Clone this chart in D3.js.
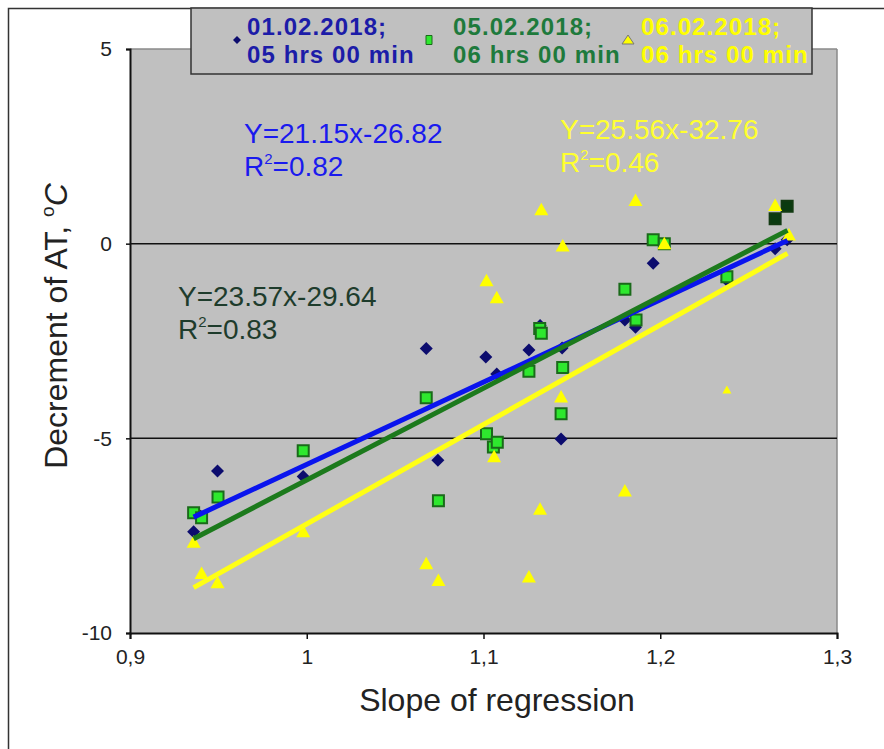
<!DOCTYPE html>
<html>
<head>
<meta charset="utf-8">
<script src="https://cdn.jsdelivr.net/npm/d3@7"></script>
<style>
  body { margin: 0; background: #fff; }
  text { font-family: Arial, "Liberation Sans", sans-serif; }
</style>
</head>
<body>
<div id="chart"></div>
<script>
// ---- data ----
var blueX = [0.936, 0.9495, 0.998, 1.0676, 1.0742, 1.1013, 1.1075, 1.1257, 1.132, 1.1445, 1.1439, 1.180, 1.186, 1.196, 1.2377, 1.265, 1.2718, 0.940]
var blueY = [-7.40, -5.84, -5.98, -2.69, -5.56, -2.91, -3.35, -2.73, -2.10, -2.68, -5.02, -1.96, -2.15, -0.50, -0.94, -0.13, 0.10, -7.0]

var greenX = [0.936, 0.9405, 0.9498, 0.998, 1.0676, 1.0745, 1.1017, 1.1056, 1.1078, 1.1257, 1.1318, 1.1327, 1.1448, 1.1439, 1.180, 1.1863, 1.196, 1.2023, 1.2377]
var greenY = [-6.91, -7.04, -6.51, -5.32, -3.96, -6.60, -4.88, -5.22, -5.10, -3.28, -2.18, -2.30, -3.18, -4.37, -1.17, -1.96, 0.10, 0.0, -0.85]
var greenDarkX = [1.265, 1.2718]
var greenDarkY = [0.64, 0.96]

var yellowX = [0.936, 0.9405, 0.9495, 0.998, 1.0676, 1.0745, 1.1017, 1.1075, 1.106, 1.1257, 1.1327, 1.132, 1.1448, 1.1439, 1.180, 1.186, 1.2023, 1.265, 1.2728]
var yellowY = [-7.67, -8.47, -8.71, -7.40, -8.22, -8.65, -0.95, -1.39, -5.47, -8.56, 0.87, -6.82, -0.06, -3.94, -6.35, 1.11, 0.0, 0.98, 0.22]
var yellowSmallX = [1.2377]
var yellowSmallY = [-3.76]

// trend lines: slope, intercept, x range
var trendNames = ["blue", "green", "yellow"]
var trendSlope = [21.15, 23.57, 25.56]
var trendIntercept = [-26.82, -29.64, -32.76]
var trendFrom = [0.936, 0.936, 0.936]
var trendTo = [1.272, 1.272, 1.272]

var xTicks = [0.9, 1, 1.1, 1.2, 1.3]
var yTicks = [5, 0, -5, -10]
var gridY = [0, -5]

var legendDates = ["01.02.2018;", "05.02.2018;", "06.02.2018;"]
var legendTimes = ["05 hrs 00 min", "06 hrs 00 min", "06 hrs 00 min"]

// ---- layout ----
var W = 884, H = 749
var plotL = 130, plotR = 837, plotT = 49, plotB = 633

var svg = d3.select("#chart").append("svg").attr("width", W).attr("height", H)

// outer frame
svg.append("rect").attr("x", 8.5).attr("y", 8.5).attr("width", 900).attr("height", 900)
  .attr("fill", "none").attr("stroke", "#333").attr("stroke-width", 1.5)

var xs = d3.scaleLinear().domain([0.9, 1.3]).range([plotL, plotR])
var ys = d3.scaleLinear().domain([-10, 5]).range([plotB, plotT])

// plot area
svg.append("rect").attr("x", plotL).attr("y", plotT).attr("width", plotR - plotL).attr("height", plotB - plotT)
  .attr("fill", "#c0c0c0")
svg.append("line").attr("x1", plotL).attr("x2", plotR).attr("y1", plotT).attr("y2", plotT).attr("stroke", "#8a8a8a").attr("stroke-width", 1.5)
svg.append("line").attr("x1", plotR).attr("x2", plotR).attr("y1", plotT).attr("y2", plotB).attr("stroke", "#8a8a8a").attr("stroke-width", 1.5)

// grid lines
svg.append("g").selectAll("line").data(gridY).enter().append("line")
  .attr("x1", plotL).attr("x2", plotR)
  .attr("y1", d => ys(d)).attr("y2", d => ys(d))
  .attr("stroke", "#111").attr("stroke-width", 1.5)

// axes
var yAxis = svg.append("g").attr("transform", "translate(" + plotL + ",0)")
  .call(d3.axisLeft(ys).tickValues(yTicks).tickSize(4).tickPadding(14).tickFormat(d => String(d)))
var xAxis = svg.append("g").attr("transform", "translate(0," + plotB + ")")
  .call(d3.axisBottom(xs).tickValues(xTicks).tickSize(6).tickPadding(10).tickFormat(d => String(d).replace(".", ",")))
;[yAxis, xAxis].forEach(function (a) {
  a.select(".domain").attr("stroke", "#111").attr("stroke-width", 2)
  a.selectAll(".tick line").attr("stroke", "#111").attr("stroke-width", 1.5)
  a.selectAll(".tick text").attr("font-size", 21).attr("fill", "#222").attr("font-family", "Arial, 'Liberation Sans', sans-serif")
})

// axis titles
svg.append("text").attr("x", 497).attr("y", 711).attr("text-anchor", "middle")
  .attr("font-size", 32).attr("fill", "#222").text("Slope of regression")
var yt = svg.append("text").attr("transform", "translate(67,326) rotate(-90)").attr("text-anchor", "middle")
  .attr("font-size", 32).attr("fill", "#222")
yt.append("tspan").text("Decrement of AT, ")
yt.append("tspan").attr("font-size", 19).attr("dy", -13).text("o")
yt.append("tspan").attr("font-style", "italic").attr("dy", 13).text("C")

// markers
var diamond = "M0,-6.5L6.5,0L0,6.5L-6.5,0Z"
var square = "M-5.5,-5.5H5.5V5.5H-5.5Z"
var tri = "M0,-7L7,5.5H-7Z"
var triSmall = "M0,-4.5L4.5,3.5H-4.5Z"

var gPts = svg.append("g")
gPts.selectAll(".blue").data(d3.range(blueX.length)).enter().append("path")
  .attr("d", diamond).attr("fill", "#0c0c6e")
  .attr("transform", i => "translate(" + xs(blueX[i]) + "," + ys(blueY[i]) + ")")
gPts.selectAll(".green").data(d3.range(greenX.length)).enter().append("path")
  .attr("d", square).attr("fill", "#2ee82e").attr("stroke", "#1a6a1a").attr("stroke-width", 2)
  .attr("transform", i => "translate(" + xs(greenX[i]) + "," + ys(greenY[i]) + ")")
gPts.selectAll(".greenDark").data(d3.range(greenDarkX.length)).enter().append("path")
  .attr("d", square).attr("fill", "#0a3a10").attr("stroke", "#123a12").attr("stroke-width", 2)
  .attr("transform", i => "translate(" + xs(greenDarkX[i]) + "," + ys(greenDarkY[i]) + ")")
gPts.selectAll(".yellow").data(d3.range(yellowX.length)).enter().append("path")
  .attr("d", tri).attr("fill", "#ffff00")
  .attr("transform", i => "translate(" + xs(yellowX[i]) + "," + ys(yellowY[i]) + ")")
gPts.selectAll(".yellowSmall").data(d3.range(yellowSmallX.length)).enter().append("path")
  .attr("d", triSmall).attr("fill", "#ffff00")
  .attr("transform", i => "translate(" + xs(yellowSmallX[i]) + "," + ys(yellowSmallY[i]) + ")")

// trend lines
var lineColors = ["#0a14ee", "#1c7a1c", "#ffff14"]
svg.append("g").selectAll("line").data(d3.range(trendNames.length)).enter().append("line")
  .attr("x1", i => xs(trendFrom[i])).attr("x2", i => xs(trendTo[i]))
  .attr("y1", i => ys(trendSlope[i] * trendFrom[i] + trendIntercept[i]))
  .attr("y2", i => ys(trendSlope[i] * trendTo[i] + trendIntercept[i]))
  .attr("stroke", i => lineColors[i]).attr("stroke-width", 5).attr("stroke-linecap", "butt")

// equations
function eq(x, y, color, a, b, r2) {
  var t = svg.append("g").attr("fill", color).attr("font-size", 28)
  t.append("text").attr("x", x).attr("y", y).text("Y=" + a + "x" + b)
  var r = t.append("text").attr("x", x).attr("y", y + 33)
  r.append("tspan").text("R")
  r.append("tspan").attr("font-size", 15).attr("dy", -12).text("2")
  r.append("tspan").attr("dy", 12).text("=" + r2)
}
eq(244, 143, "#1a1aee", trendSlope[0], trendIntercept[0], "0.82")
eq(178, 306, "#1e3c2c", trendSlope[1], trendIntercept[1], "0.83")
eq(560, 139, "#ffff30", trendSlope[2], trendIntercept[2], "0.46")

// legend
var lg = svg.append("g")
lg.append("rect").attr("x", 191).attr("y", 8).attr("width", 621).attr("height", 66)
  .attr("fill", "#c0c0c0").attr("stroke", "#333").attr("stroke-width", 1.5)
var legX = [247, 453, 641]
var legMarkX = [237, 429, 628]
var legColors = ["#1c1ca8", "#1e7a3c", "#ffff00"]
var legShapes = ["M0,-4L4,0L0,4L-4,0Z", "M-3,-4.5H3V4.5H-3Z", "M0,-5L6,4H-6Z"]
var legShapeFill = ["#0c0c6e", "#2ee82e", "#ffff00"]
var legShapeStroke = ["none", "#1a6a1a", "#777"]
legX.forEach(function (x, i) {
  lg.append("path").attr("d", legShapes[i]).attr("fill", legShapeFill[i])
    .attr("stroke", legShapeStroke[i]).attr("stroke-width", 1)
    .attr("transform", "translate(" + legMarkX[i] + ",40)")
  lg.append("text").attr("x", x).attr("y", 35).attr("font-size", 24).attr("font-weight", "bold")
    .attr("letter-spacing", 1.1).attr("fill", legColors[i]).text(legendDates[i])
  lg.append("text").attr("x", x).attr("y", 63).attr("font-size", 24).attr("font-weight", "bold")
    .attr("letter-spacing", 1.1).attr("fill", legColors[i]).text(legendTimes[i])
})
</script>
</body>
</html>
